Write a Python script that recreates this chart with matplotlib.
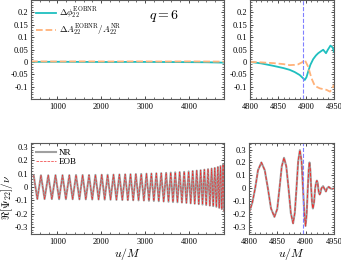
import matplotlib
matplotlib.use('Agg')
import matplotlib.pyplot as plt
from matplotlib.ticker import FuncFormatter, AutoMinorLocator
import numpy as np

# ---- data ----
# top left : phase / amplitude differences over the whole run (about zero)
u_diff_long = [400, 1000, 1600, 2200, 2800, 3400, 4000, 4400, 4800]
dphi_long = [0.0, 0.0005, 0.0, -0.0005, 0.0, -0.0005, -0.001, -0.0015, -0.003]
damp_long = [0.002, 0.0015, 0.002, 0.0015, 0.002, 0.0015, 0.002, 0.0015, 0.001]

# top right : differences around merger
u_dphi = [4800, 4820, 4842, 4860, 4871, 4880, 4889, 4895, 4898, 4901, 4904, 4908,
          4913, 4918, 4922, 4927, 4931, 4936, 4939, 4944, 4948, 4950]
dphi = [0.0, -0.006, -0.016, -0.025, -0.032, -0.041, -0.053, -0.066, -0.073, -0.062,
        -0.040, -0.012, 0.011, 0.026, 0.035, 0.043, 0.049, 0.035, 0.048, 0.066, 0.058, 0.042]
u_damp = [4800, 4820, 4842, 4860, 4871, 4880, 4886, 4893, 4898, 4904, 4910, 4916,
          4925, 4931, 4937, 4943, 4947, 4950]
damp = [0.0, -0.002, -0.005, -0.009, -0.013, -0.012, -0.010, -0.002, 0.008, -0.019,
        -0.066, -0.097, -0.107, -0.110, -0.113, -0.120, -0.110, -0.093]

# bottom left : extrema of Re[Psi22]/nu (alternating max / min)
u_ext = [460, 543, 626, 709, 792, 875, 958, 1040, 1118, 1195, 1272, 1349, 1426, 1503,
         1576, 1649, 1722, 1795, 1868, 1941, 2012, 2079, 2146, 2213, 2280, 2347, 2414,
         2481, 2546, 2607, 2668, 2729, 2790, 2851, 2912, 2973, 3032, 3088, 3144, 3200,
         3256, 3312, 3368, 3424, 3480, 3534, 3585, 3636, 3687, 3738, 3789, 3840, 3891,
         3942, 3993, 4040, 4086, 4132, 4178, 4224, 4267, 4309, 4351, 4393, 4435, 4477,
         4517, 4553, 4589, 4625, 4660, 4690, 4720, 4750, 4778, 4800]
psi_ext = [0.088, -0.090, 0.088, -0.090, 0.088, -0.090, 0.089, -0.091, 0.089, -0.091,
           0.089, -0.091, 0.090, -0.092, 0.090, -0.092, 0.090, -0.093, 0.091, -0.093,
           0.092, -0.094, 0.092, -0.095, 0.093, -0.096, 0.094, -0.097, 0.095, -0.098,
           0.096, -0.099, 0.097, -0.100, 0.098, -0.101, 0.100, -0.103, 0.101, -0.104,
           0.103, -0.106, 0.104, -0.108, 0.106, -0.110, 0.108, -0.112, 0.110, -0.114,
           0.112, -0.116, 0.114, -0.119, 0.117, -0.122, 0.120, -0.125, 0.123, -0.128,
           0.126, -0.131, 0.130, -0.135, 0.134, -0.139, 0.138, -0.143, 0.143, -0.148,
           0.150, -0.156, 0.158, -0.165, 0.170, -0.182]

# bottom right : waveform around merger
u_merge = [4800, 4806, 4811, 4816, 4822, 4828, 4833.5, 4839, 4845, 4850, 4854, 4858,
           4862, 4866, 4870, 4874, 4878, 4881, 4884, 4887, 4890, 4893, 4895.5, 4898,
           4900, 4902, 4904, 4905.5, 4907, 4908.5, 4910, 4911.5, 4913, 4915, 4917,
           4918.5, 4920, 4921.5, 4922.5, 4923.5, 4925, 4926.5, 4928, 4931, 4933, 4936,
           4938, 4941, 4944, 4947, 4950]
psi_merge = [-0.19, -0.11, 0.0, 0.14, 0.20, 0.14, 0.0, -0.155, -0.22, -0.16, 0.0, 0.17,
             0.236, 0.17, 0.0, -0.19, -0.27, -0.19, 0.0, 0.21, 0.295, 0.21, 0.0, -0.20,
             -0.29, -0.20, 0.0, 0.14, 0.20, 0.14, 0.0, -0.11, -0.155, -0.11, 0.0,
             0.042, 0.06, 0.042, 0.0, -0.033, -0.047, -0.033, 0.0, 0.017, 0.0, -0.024,
             0.0, 0.012, 0.0, -0.005, 0.0]

u_peak = 4895

# ---- style ----
plt.rcParams['font.family'] = 'serif'
plt.rcParams['font.serif'] = ['Liberation Serif', 'DejaVu Serif']
plt.rcParams['mathtext.fontset'] = 'cm'
plt.rcParams['font.size'] = 6

c_phi = '#1fbfbf'
c_amp = '#ffb27a'
c_nr = '#a0a0a0'
c_eob = '#ee3030'
c_vl = '#8080ff'

fig = plt.figure(figsize=(3.41, 2.62), dpi=100)
ax1 = fig.add_axes([0.091, 0.622, 0.566, 0.378])
ax2 = fig.add_axes([0.733, 0.622, 0.246, 0.378])
ax3 = fig.add_axes([0.091, 0.108, 0.566, 0.346])
ax4 = fig.add_axes([0.730, 0.108, 0.249, 0.346])

fmt = FuncFormatter(lambda v, p: '%g' % v if abs(v) > 1e-9 else '0')


def style(ax):
    ax.tick_params(which='both', direction='in', top=True, right=True,
                   labelsize=6, pad=2)
    ax.tick_params(axis='x', pad=3)
    ax.tick_params(which='major', length=2.5, width=0.5)
    ax.tick_params(which='minor', length=1.2, width=0.4)
    ax.xaxis.set_minor_locator(AutoMinorLocator(5))
    ax.yaxis.set_minor_locator(AutoMinorLocator(5))
    ax.yaxis.set_major_formatter(fmt)
    for s in ax.spines.values():
        s.set_linewidth(0.8)
        s.set_color('0.35')


# top left
ax1.plot(u_diff_long, dphi_long, color=c_phi, lw=1.3,
         label=r'$\Delta\phi_{22}^{\rm EOBNR}$')
ax1.plot(u_diff_long, damp_long, color=c_amp, lw=1.3, ls='--',
         label=r'$\Delta A_{22}^{\rm EOBNR}/A_{22}^{\rm NR}$')
ax1.set_xlim(400, 4800)
ax1.set_ylim(-0.15, 0.25)
ax1.set_xticks([1000, 2000, 3000, 4000])
ax1.set_yticks([-0.1, -0.05, 0, 0.05, 0.1, 0.15, 0.2])
ax1.text(0.69, 0.84, r'$q=6$', transform=ax1.transAxes, fontsize=10,
         ha='center', va='center')
ax1.legend(loc='upper left', frameon=False, fontsize=6.5, handlelength=2.2,
           borderaxespad=0.2, labelspacing=0.2, handletextpad=0.3)
style(ax1)

# top right
ax2.plot(u_dphi, dphi, color=c_phi, lw=1.3)
ax2.plot(u_damp, damp, color=c_amp, lw=1.3, ls='--')
ax2.axvline(u_peak, color=c_vl, lw=0.8, ls='--')
ax2.set_xlim(4800, 4950)
ax2.set_ylim(-0.15, 0.25)
ax2.set_xticks([4800, 4850, 4900, 4950])
ax2.set_yticks([-0.1, -0.05, 0, 0.05, 0.1, 0.15, 0.2])
style(ax2)

# bottom left
ax3.plot(u_ext, psi_ext, color=c_nr, lw=1.5, label='NR')
ax3.plot(u_ext, psi_ext, color=c_eob, lw=0.5, ls='--', label='EOB')
ax3.set_xlim(400, 4800)
ax3.set_ylim(-0.35, 0.33)
ax3.set_xticks([1000, 2000, 3000, 4000])
ax3.set_yticks([-0.3, -0.2, -0.1, 0, 0.1, 0.2, 0.3])
ax3.set_xlabel(r'$u/M$', fontsize=8.5, labelpad=0)
ax3.set_ylabel(r'$\Re[\Psi_{22}]/\nu$', fontsize=8)
ax3.yaxis.set_label_coords(-0.085, 0.4)
ax3.legend(loc='upper left', frameon=False, fontsize=6.5, handlelength=2.2,
           borderaxespad=0.2, labelspacing=0.1, handletextpad=0.3)
style(ax3)

# bottom right
ax4.plot(u_merge, psi_merge, color=c_nr, lw=1.5)
ax4.plot(u_merge, psi_merge, color=c_eob, lw=0.7, ls='--')
ax4.axvline(u_peak, color=c_vl, lw=0.8, ls='--')
ax4.set_xlim(4800, 4950)
ax4.set_ylim(-0.35, 0.35)
ax4.set_xticks([4800, 4850, 4900, 4950])
ax4.set_yticks([-0.3, -0.2, -0.1, 0, 0.1, 0.2, 0.3])
ax4.set_xlabel(r'$u/M$', fontsize=8.5, labelpad=0)
style(ax4)

fig.savefig('out.png', dpi=100)
